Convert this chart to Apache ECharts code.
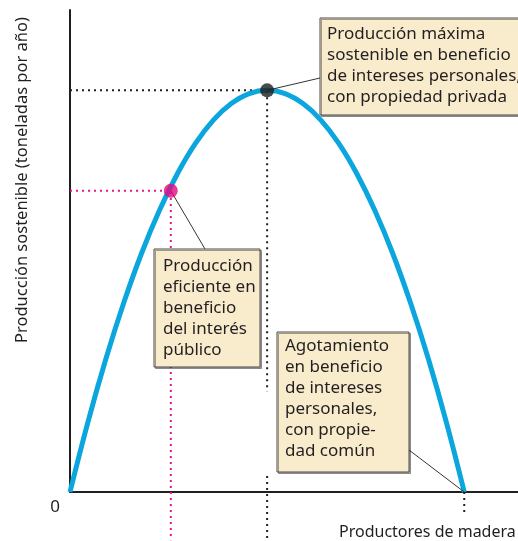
<!DOCTYPE html>
<html>
<head>
<meta charset="utf-8">
<script src="https://cdn.jsdelivr.net/npm/echarts@6/dist/echarts.min.js"></script>
<style>
  html, body { margin: 0; padding: 0; background: #fff; }
  #chart { width: 518px; height: 541px; }
</style>
</head>
<body>
<div id="chart"></div>
<script>
// esfuerzo (unidades arbitrarias) y producción sostenible
var effort = [0, 4, 8, 12, 16, 20, 24, 28, 32, 36, 40, 44, 48, 52, 56, 60, 64, 68, 72, 76, 80, 84, 88]
var yieldVals = [0, 17.4, 33.1, 47.1, 59.5, 70.2, 79.3, 86.8, 92.6, 96.7, 99.2, 100,
  99.2, 96.7, 92.6, 86.8, 79.3, 70.2, 59.5, 47.1, 33.1, 17.4, 0]

var efficientPt = [22.5, 75]   // producción eficiente
var maxPt = [44, 100]          // producción máxima sostenible
var depletionPt = [88, 0]      // agotamiento

var yName = 'Producción sostenible (toneladas por año)'
var xName = 'Productores de madera'
var noteMax = 'Producción máxima\nsostenible en beneficio\nde intereses personales,\ncon propiedad privada'
var noteEff = 'Producción\neficiente en\nbeneficio\ndel interés\npúblico'
var noteDep = 'Agotamiento\nen beneficio\nde intereses\npersonales,\ncon propie-\ndad común'

var FONT = '"Noto Sans", sans-serif'
var chart = echarts.init(document.getElementById('chart'))

function dotted(color, data) {
  return {
    type: 'line',
    data: data,
    symbol: 'none',
    clip: false,
    silent: true,
    lineStyle: { color: color, width: 2, type: [2, 4] },
    z: 1
  }
}

function noteBox(x, y, w, h, text, tx, ty) {
  return [{
    type: 'rect',
    shape: { x: x, y: y, width: w, height: h },
    style: { fill: '#f8eccd', stroke: '#4a4a4a', lineWidth: 1, shadowColor: 'rgba(0,0,0,0.35)', shadowOffsetX: 1.5, shadowOffsetY: 1.5 },
    z: 10
  }, {
    type: 'text',
    x: tx, y: ty,
    style: { text: text, font: '17px ' + FONT, fill: '#231f20', lineHeight: 21 },
    z: 11
  }]
}

chart.setOption({
  animation: false,
  grid: { left: 70, right: 0, top: 10, bottom: 49 },
  xAxis: {
    type: 'value', min: 0, max: 100,
    axisLine: { lineStyle: { color: '#231f20', width: 2 } },
    axisTick: { show: false }, axisLabel: { show: false }, splitLine: { show: false }
  },
  yAxis: {
    type: 'value', min: 0, max: 120,
    axisLine: { show: true, lineStyle: { color: '#231f20', width: 2 } },
    axisTick: { show: false }, axisLabel: { show: false }, splitLine: { show: false }
  },
  series: [
    dotted('#e8178a', [[0, efficientPt[1]], efficientPt, [efficientPt[0], -12]]),
    dotted('#231f20', [[0, maxPt[1]], maxPt, [maxPt[0], 25]]),
    dotted('#231f20', [[maxPt[0], 4], [maxPt[0], -12]]),
    dotted('#231f20', [depletionPt, [depletionPt[0], -5]]),
    {
      type: 'line',
      data: effort.map(function (x, i) { return [x, yieldVals[i]] }),
      smooth: 0.4,
      symbol: 'none',
      lineStyle: { color: '#0aa6dd', width: 5 },
      z: 3
    },
    {
      type: 'scatter',
      data: [
        { value: efficientPt, itemStyle: { color: '#e6087f' } },
        { value: maxPt, itemStyle: { color: '#1e1e1e' } }
      ],
      symbolSize: 14,
      z: 5
    }
  ]
})

var pEff = chart.convertToPixel({ gridIndex: 0 }, efficientPt)
var pMax = chart.convertToPixel({ gridIndex: 0 }, maxPt)
var pDep = chart.convertToPixel({ gridIndex: 0 }, depletionPt)

var leader = { stroke: '#333', lineWidth: 1 }
chart.setOption({
  graphic: [
    { type: 'line', shape: { x1: pEff[0], y1: pEff[1], x2: 205, y2: 249 }, style: leader, z: 4 },
    { type: 'line', shape: { x1: pMax[0], y1: pMax[1], x2: 320, y2: 78 }, style: leader, z: 4 },
    { type: 'line', shape: { x1: pDep[0], y1: pDep[1], x2: 409, y2: 450 }, style: leader, z: 4 }
  ]
    .concat(noteBox(320, 18, 215, 97, noteMax, 327, 24))
    .concat(noteBox(154, 249, 106, 118, noteEff, 163, 256))
    .concat(noteBox(277, 332, 132, 140, noteDep, 285, 336))
    .concat([
      { type: 'text', x: 22, y: 180, rotation: Math.PI / 2,
        style: { text: yName, font: '16.5px ' + FONT, fill: '#231f20', align: 'center', verticalAlign: 'middle' } },
      { type: 'text', x: 339, y: 532,
        style: { text: xName, font: '16px ' + FONT, fill: '#231f20', verticalAlign: 'middle' } },
      { type: 'text', x: 55, y: 507,
        style: { text: '0', font: '17px ' + FONT, fill: '#231f20', align: 'center', verticalAlign: 'middle' } }
    ])
})
</script>
</body>
</html>
